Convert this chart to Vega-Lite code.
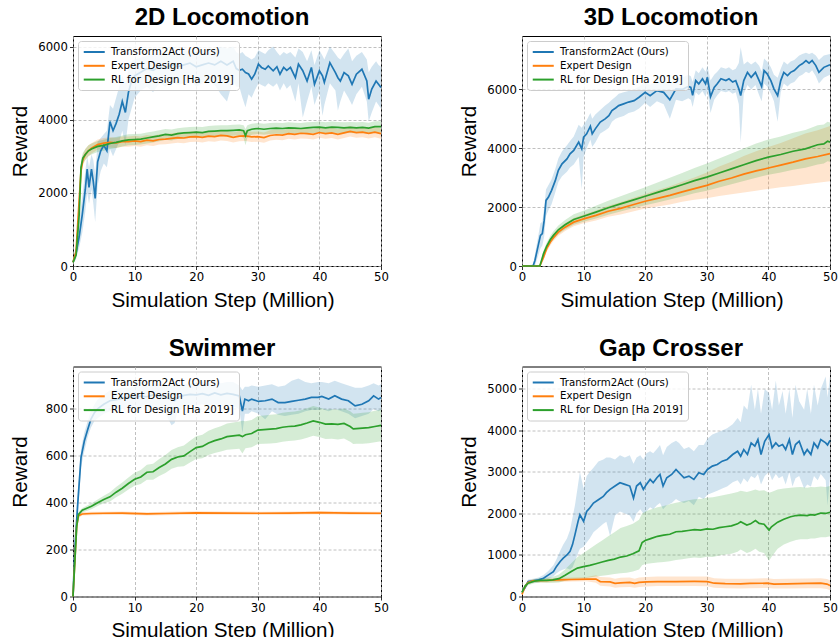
{
"$schema": "https://vega.github.io/schema/vega-lite/v6.json",
"padding": {"left": 8, "top": 5, "right": 0, "bottom": 0},
"background": "white",
"config": {
  "view": {"stroke": "black", "strokeWidth": 1},
  "axis": {"grid": true, "gridDash": [3, 2], "gridColor": "#b0b0b0", "gridWidth": 0.8, "domain": false, "ticks": true, "tickColor": "black", "tickSize": 3.5, "tickWidth": 0.8, "labelFont": "DejaVu Sans", "labelFontSize": 11.7, "labelColor": "black", "labelPadding": 2, "titleFont": "Liberation Sans", "titleFontSize": 20.7, "titleFontWeight": "normal", "titleColor": "black", "titleBaseline": "alphabetic", "format": "d"},
  "axisX": {"labelAngle": 0, "titleX": 149.5, "titleY": 40, "labelFlush": false},
  "axisY": {"titleX": -47, "titleY": 105, "titleAngle": -90},
  "title": {"font": "Liberation Sans", "fontSize": 24, "fontWeight": "bold", "color": "black", "frame": "group", "anchor": "middle", "dx": -5, "baseline": "alphabetic", "offset": 6},
  "legend": {"orient": "top-left", "offset": 5, "padding": 4.5, "fillColor": "rgba(255,255,255,0.8)", "strokeColor": "#cccccc", "cornerRadius": 3, "labelFont": "DejaVu Sans", "labelFontSize": 10.2, "labelColor": "black", "symbolType": "M-1,0H3", "symbolSize": 110.25, "symbolStrokeWidth": 2, "symbolOpacity": 1, "labelOffset": 15.5, "rowPadding": 1.8, "title": null}
},
"data": {"values": [
{"p":"a","s":"T","x":0,"y":100,"lo":50,"hi":200},
{"p":"a","s":"T","x":0.5,"y":350,"lo":200,"hi":550},
{"p":"a","s":"T","x":1,"y":800,"lo":500,"hi":1200},
{"p":"a","s":"T","x":1.5,"y":1400,"lo":900,"hi":1900},
{"p":"a","s":"T","x":2,"y":2100,"lo":1500,"hi":2600},
{"p":"a","s":"T","x":2.3,"y":2650,"lo":2000,"hi":3000},
{"p":"a","s":"T","x":2.6,"y":2150,"lo":1700,"hi":2700},
{"p":"a","s":"T","x":3,"y":2650,"lo":2100,"hi":3050},
{"p":"a","s":"T","x":3.3,"y":2300,"lo":1700,"hi":2900},
{"p":"a","s":"T","x":3.6,"y":1850,"lo":1200,"hi":2500},
{"p":"a","s":"T","x":4,"y":2850,"lo":2200,"hi":3400},
{"p":"a","s":"T","x":4.5,"y":3150,"lo":2600,"hi":3500},
{"p":"a","s":"T","x":5,"y":3300,"lo":2800,"hi":3600},
{"p":"a","s":"T","x":5.5,"y":3150,"lo":2700,"hi":3700},
{"p":"a","s":"T","x":6,"y":3950,"lo":3200,"hi":4400},
{"p":"a","s":"T","x":6.5,"y":3700,"lo":3000,"hi":4300},
{"p":"a","s":"T","x":7,"y":3900,"lo":3200,"hi":4600},
{"p":"a","s":"T","x":7.5,"y":4150,"lo":3400,"hi":4900},
{"p":"a","s":"T","x":8,"y":4500,"lo":3700,"hi":5200},
{"p":"a","s":"T","x":8.5,"y":4200,"lo":3300,"hi":5000},
{"p":"a","s":"T","x":9,"y":4750,"lo":4000,"hi":5400},
{"p":"a","s":"T","x":9.5,"y":5050,"lo":4300,"hi":5600},
{"p":"a","s":"T","x":10,"y":5200,"lo":4600,"hi":5650},
{"p":"a","s":"T","x":11,"y":5300,"lo":4800,"hi":5700},
{"p":"a","s":"T","x":12,"y":5400,"lo":4900,"hi":5750},
{"p":"a","s":"T","x":13,"y":5350,"lo":4750,"hi":5800},
{"p":"a","s":"T","x":14,"y":5450,"lo":5000,"hi":5800},
{"p":"a","s":"T","x":15,"y":5400,"lo":4900,"hi":5850},
{"p":"a","s":"T","x":16,"y":5500,"lo":5050,"hi":5850},
{"p":"a","s":"T","x":17,"y":5450,"lo":4950,"hi":5800},
{"p":"a","s":"T","x":18,"y":5500,"lo":5000,"hi":5900},
{"p":"a","s":"T","x":19,"y":5550,"lo":5100,"hi":5900},
{"p":"a","s":"T","x":20,"y":5450,"lo":4900,"hi":5850},
{"p":"a","s":"T","x":21,"y":5500,"lo":5000,"hi":5900},
{"p":"a","s":"T","x":22,"y":5550,"lo":5050,"hi":5950},
{"p":"a","s":"T","x":23,"y":5500,"lo":4950,"hi":5900},
{"p":"a","s":"T","x":24,"y":5600,"lo":4700,"hi":6000},
{"p":"a","s":"T","x":25,"y":5500,"lo":4500,"hi":5950},
{"p":"a","s":"T","x":26,"y":5600,"lo":5100,"hi":6000},
{"p":"a","s":"T","x":26.5,"y":5400,"lo":4900,"hi":5850},
{"p":"a","s":"T","x":27,"y":5350,"lo":4900,"hi":5800},
{"p":"a","s":"T","x":27.5,"y":5380,"lo":4600,"hi":5850},
{"p":"a","s":"T","x":28,"y":5290,"lo":4340,"hi":5750},
{"p":"a","s":"T","x":28.5,"y":5250,"lo":4700,"hi":5700},
{"p":"a","s":"T","x":29,"y":5110,"lo":4600,"hi":5650},
{"p":"a","s":"T","x":29.5,"y":5245,"lo":4800,"hi":5700},
{"p":"a","s":"T","x":30.1,"y":5520,"lo":5000,"hi":5900},
{"p":"a","s":"T","x":30.6,"y":5430,"lo":4950,"hi":5850},
{"p":"a","s":"T","x":31.2,"y":5380,"lo":4900,"hi":5800},
{"p":"a","s":"T","x":31.7,"y":5470,"lo":5000,"hi":5900},
{"p":"a","s":"T","x":32.5,"y":5340,"lo":4900,"hi":6000},
{"p":"a","s":"T","x":33.1,"y":5450,"lo":5000,"hi":5850},
{"p":"a","s":"T","x":33.6,"y":5245,"lo":4800,"hi":5750},
{"p":"a","s":"T","x":34.2,"y":5430,"lo":5000,"hi":5850},
{"p":"a","s":"T","x":34.7,"y":5350,"lo":4850,"hi":5800},
{"p":"a","s":"T","x":35.3,"y":5430,"lo":4950,"hi":5850},
{"p":"a","s":"T","x":36.1,"y":5150,"lo":4500,"hi":5700},
{"p":"a","s":"T","x":36.6,"y":5520,"lo":5000,"hi":5950},
{"p":"a","s":"T","x":37.3,"y":5340,"lo":4060,"hi":5850},
{"p":"a","s":"T","x":38,"y":5060,"lo":4500,"hi":5600},
{"p":"a","s":"T","x":38.7,"y":5430,"lo":4900,"hi":5900},
{"p":"a","s":"T","x":39.2,"y":4970,"lo":4400,"hi":5500},
{"p":"a","s":"T","x":40,"y":5340,"lo":4800,"hi":5900},
{"p":"a","s":"T","x":40.5,"y":5200,"lo":4110,"hi":5750},
{"p":"a","s":"T","x":40.8,"y":5020,"lo":4400,"hi":5650},
{"p":"a","s":"T","x":41.7,"y":5560,"lo":5000,"hi":6000},
{"p":"a","s":"T","x":42.6,"y":5290,"lo":4800,"hi":5800},
{"p":"a","s":"T","x":43,"y":5150,"lo":4250,"hi":5700},
{"p":"a","s":"T","x":43.4,"y":5060,"lo":4500,"hi":5650},
{"p":"a","s":"T","x":44,"y":5290,"lo":4800,"hi":5800},
{"p":"a","s":"T","x":44.7,"y":5200,"lo":4600,"hi":5950},
{"p":"a","s":"T","x":45.3,"y":4970,"lo":4400,"hi":5600},
{"p":"a","s":"T","x":46,"y":5245,"lo":4700,"hi":5750},
{"p":"a","s":"T","x":46.9,"y":5380,"lo":4900,"hi":5850},
{"p":"a","s":"T","x":47.7,"y":5060,"lo":4500,"hi":5650},
{"p":"a","s":"T","x":48,"y":4560,"lo":3950,"hi":5300},
{"p":"a","s":"T","x":48.5,"y":4840,"lo":4200,"hi":5450},
{"p":"a","s":"T","x":49.2,"y":5060,"lo":4500,"hi":5600},
{"p":"a","s":"T","x":49.6,"y":4970,"lo":4400,"hi":5500},
{"p":"a","s":"T","x":50,"y":4880,"lo":4300,"hi":5450},
{"p":"a","s":"E","x":0,"y":100,"lo":50,"hi":150},
{"p":"a","s":"E","x":0.5,"y":400,"lo":300,"hi":500},
{"p":"a","s":"E","x":1,"y":1800,"lo":1500,"hi":2100},
{"p":"a","s":"E","x":1.3,"y":2600,"lo":2400,"hi":2800},
{"p":"a","s":"E","x":1.6,"y":2900,"lo":2750,"hi":3050},
{"p":"a","s":"E","x":2,"y":3050,"lo":2900,"hi":3200},
{"p":"a","s":"E","x":2.5,"y":3150,"lo":3000,"hi":3300},
{"p":"a","s":"E","x":3,"y":3220,"lo":3080,"hi":3360},
{"p":"a","s":"E","x":4,"y":3320,"lo":3180,"hi":3460},
{"p":"a","s":"E","x":5,"y":3360,"lo":3220,"hi":3500},
{"p":"a","s":"E","x":6,"y":3380,"lo":3240,"hi":3520},
{"p":"a","s":"E","x":7,"y":3370,"lo":3230,"hi":3510},
{"p":"a","s":"E","x":8,"y":3400,"lo":3260,"hi":3540},
{"p":"a","s":"E","x":9,"y":3400,"lo":3260,"hi":3540},
{"p":"a","s":"E","x":10,"y":3420,"lo":3280,"hi":3560},
{"p":"a","s":"E","x":11,"y":3400,"lo":3260,"hi":3540},
{"p":"a","s":"E","x":12,"y":3440,"lo":3300,"hi":3580},
{"p":"a","s":"E","x":13,"y":3420,"lo":3280,"hi":3560},
{"p":"a","s":"E","x":14,"y":3460,"lo":3320,"hi":3600},
{"p":"a","s":"E","x":15,"y":3470,"lo":3330,"hi":3610},
{"p":"a","s":"E","x":16,"y":3490,"lo":3350,"hi":3630},
{"p":"a","s":"E","x":17,"y":3510,"lo":3370,"hi":3650},
{"p":"a","s":"E","x":18,"y":3500,"lo":3360,"hi":3640},
{"p":"a","s":"E","x":19,"y":3530,"lo":3390,"hi":3670},
{"p":"a","s":"E","x":20,"y":3540,"lo":3400,"hi":3680},
{"p":"a","s":"E","x":21,"y":3520,"lo":3380,"hi":3660},
{"p":"a","s":"E","x":22,"y":3550,"lo":3410,"hi":3690},
{"p":"a","s":"E","x":23,"y":3540,"lo":3400,"hi":3680},
{"p":"a","s":"E","x":24,"y":3570,"lo":3430,"hi":3710},
{"p":"a","s":"E","x":25,"y":3560,"lo":3420,"hi":3700},
{"p":"a","s":"E","x":26,"y":3520,"lo":3380,"hi":3660},
{"p":"a","s":"E","x":27,"y":3550,"lo":3410,"hi":3690},
{"p":"a","s":"E","x":28,"y":3560,"lo":3420,"hi":3700},
{"p":"a","s":"E","x":29,"y":3530,"lo":3390,"hi":3670},
{"p":"a","s":"E","x":30,"y":3540,"lo":3400,"hi":3680},
{"p":"a","s":"E","x":31,"y":3510,"lo":3370,"hi":3650},
{"p":"a","s":"E","x":32,"y":3570,"lo":3430,"hi":3710},
{"p":"a","s":"E","x":33,"y":3590,"lo":3450,"hi":3730},
{"p":"a","s":"E","x":34,"y":3580,"lo":3440,"hi":3720},
{"p":"a","s":"E","x":35,"y":3620,"lo":3480,"hi":3760},
{"p":"a","s":"E","x":36,"y":3600,"lo":3460,"hi":3740},
{"p":"a","s":"E","x":37,"y":3630,"lo":3490,"hi":3770},
{"p":"a","s":"E","x":38,"y":3620,"lo":3480,"hi":3760},
{"p":"a","s":"E","x":39,"y":3600,"lo":3460,"hi":3740},
{"p":"a","s":"E","x":40,"y":3650,"lo":3510,"hi":3790},
{"p":"a","s":"E","x":41,"y":3620,"lo":3480,"hi":3760},
{"p":"a","s":"E","x":42,"y":3640,"lo":3500,"hi":3780},
{"p":"a","s":"E","x":43,"y":3600,"lo":3460,"hi":3740},
{"p":"a","s":"E","x":44,"y":3640,"lo":3500,"hi":3780},
{"p":"a","s":"E","x":45,"y":3680,"lo":3540,"hi":3820},
{"p":"a","s":"E","x":46,"y":3650,"lo":3510,"hi":3790},
{"p":"a","s":"E","x":47,"y":3660,"lo":3520,"hi":3800},
{"p":"a","s":"E","x":48,"y":3630,"lo":3490,"hi":3770},
{"p":"a","s":"E","x":49,"y":3660,"lo":3520,"hi":3800},
{"p":"a","s":"E","x":50,"y":3620,"lo":3480,"hi":3760},
{"p":"a","s":"R","x":0,"y":100,"lo":50,"hi":150},
{"p":"a","s":"R","x":0.5,"y":300,"lo":200,"hi":400},
{"p":"a","s":"R","x":1,"y":1400,"lo":1100,"hi":1700},
{"p":"a","s":"R","x":1.3,"y":2700,"lo":2500,"hi":2900},
{"p":"a","s":"R","x":1.6,"y":2950,"lo":2800,"hi":3100},
{"p":"a","s":"R","x":2,"y":3050,"lo":2900,"hi":3200},
{"p":"a","s":"R","x":2.5,"y":3150,"lo":3000,"hi":3300},
{"p":"a","s":"R","x":3,"y":3200,"lo":3050,"hi":3350},
{"p":"a","s":"R","x":4,"y":3270,"lo":3120,"hi":3420},
{"p":"a","s":"R","x":5,"y":3300,"lo":3150,"hi":3450},
{"p":"a","s":"R","x":6,"y":3350,"lo":3200,"hi":3500},
{"p":"a","s":"R","x":7,"y":3380,"lo":3230,"hi":3530},
{"p":"a","s":"R","x":8,"y":3420,"lo":3270,"hi":3570},
{"p":"a","s":"R","x":9,"y":3450,"lo":3300,"hi":3600},
{"p":"a","s":"R","x":10,"y":3460,"lo":3310,"hi":3610},
{"p":"a","s":"R","x":11,"y":3470,"lo":3320,"hi":3620},
{"p":"a","s":"R","x":12,"y":3500,"lo":3350,"hi":3650},
{"p":"a","s":"R","x":13,"y":3530,"lo":3380,"hi":3680},
{"p":"a","s":"R","x":14,"y":3560,"lo":3410,"hi":3710},
{"p":"a","s":"R","x":15,"y":3600,"lo":3450,"hi":3750},
{"p":"a","s":"R","x":16,"y":3580,"lo":3430,"hi":3730},
{"p":"a","s":"R","x":17,"y":3620,"lo":3470,"hi":3770},
{"p":"a","s":"R","x":18,"y":3640,"lo":3490,"hi":3790},
{"p":"a","s":"R","x":19,"y":3650,"lo":3500,"hi":3800},
{"p":"a","s":"R","x":20,"y":3660,"lo":3510,"hi":3810},
{"p":"a","s":"R","x":21,"y":3650,"lo":3500,"hi":3800},
{"p":"a","s":"R","x":22,"y":3680,"lo":3530,"hi":3830},
{"p":"a","s":"R","x":23,"y":3690,"lo":3540,"hi":3840},
{"p":"a","s":"R","x":24,"y":3700,"lo":3550,"hi":3850},
{"p":"a","s":"R","x":25,"y":3700,"lo":3550,"hi":3850},
{"p":"a","s":"R","x":26,"y":3710,"lo":3560,"hi":3860},
{"p":"a","s":"R","x":27,"y":3720,"lo":3570,"hi":3870},
{"p":"a","s":"R","x":27.7,"y":3700,"lo":3500,"hi":3850},
{"p":"a","s":"R","x":28,"y":3560,"lo":3300,"hi":3750},
{"p":"a","s":"R","x":28.3,"y":3700,"lo":3500,"hi":3850},
{"p":"a","s":"R","x":29,"y":3740,"lo":3590,"hi":3890},
{"p":"a","s":"R","x":30,"y":3760,"lo":3610,"hi":3910},
{"p":"a","s":"R","x":31,"y":3740,"lo":3590,"hi":3890},
{"p":"a","s":"R","x":32,"y":3760,"lo":3610,"hi":3910},
{"p":"a","s":"R","x":33,"y":3770,"lo":3620,"hi":3920},
{"p":"a","s":"R","x":34,"y":3760,"lo":3610,"hi":3910},
{"p":"a","s":"R","x":35,"y":3780,"lo":3630,"hi":3930},
{"p":"a","s":"R","x":36,"y":3770,"lo":3620,"hi":3920},
{"p":"a","s":"R","x":37,"y":3760,"lo":3610,"hi":3910},
{"p":"a","s":"R","x":38,"y":3780,"lo":3630,"hi":3930},
{"p":"a","s":"R","x":39,"y":3790,"lo":3640,"hi":3940},
{"p":"a","s":"R","x":40,"y":3800,"lo":3650,"hi":3950},
{"p":"a","s":"R","x":41,"y":3780,"lo":3630,"hi":3930},
{"p":"a","s":"R","x":42,"y":3800,"lo":3650,"hi":3950},
{"p":"a","s":"R","x":43,"y":3790,"lo":3640,"hi":3940},
{"p":"a","s":"R","x":44,"y":3780,"lo":3630,"hi":3930},
{"p":"a","s":"R","x":45,"y":3790,"lo":3640,"hi":3940},
{"p":"a","s":"R","x":46,"y":3780,"lo":3630,"hi":3930},
{"p":"a","s":"R","x":47,"y":3790,"lo":3640,"hi":3940},
{"p":"a","s":"R","x":48,"y":3770,"lo":3620,"hi":3920},
{"p":"a","s":"R","x":49,"y":3810,"lo":3660,"hi":3960},
{"p":"a","s":"R","x":50,"y":3810,"lo":3660,"hi":3960},
{"p":"b","s":"T","x":0,"y":0,"lo":0,"hi":0},
{"p":"b","s":"T","x":1.8,"y":0,"lo":0,"hi":50},
{"p":"b","s":"T","x":2.1,"y":190,"lo":0,"hi":400},
{"p":"b","s":"T","x":2.7,"y":760,"lo":400,"hi":1100},
{"p":"b","s":"T","x":3,"y":1040,"lo":600,"hi":1450},
{"p":"b","s":"T","x":3.3,"y":1100,"lo":700,"hi":1500},
{"p":"b","s":"T","x":3.6,"y":1550,"lo":1000,"hi":2000},
{"p":"b","s":"T","x":3.9,"y":2230,"lo":1700,"hi":2600},
{"p":"b","s":"T","x":4.3,"y":2340,"lo":1900,"hi":2750},
{"p":"b","s":"T","x":4.8,"y":2570,"lo":2100,"hi":2950},
{"p":"b","s":"T","x":5.4,"y":2900,"lo":2500,"hi":3300},
{"p":"b","s":"T","x":5.9,"y":3250,"lo":2850,"hi":3650},
{"p":"b","s":"T","x":6.5,"y":3470,"lo":3050,"hi":3900},
{"p":"b","s":"T","x":7.3,"y":3640,"lo":3200,"hi":4100},
{"p":"b","s":"T","x":7.8,"y":3810,"lo":3350,"hi":4250},
{"p":"b","s":"T","x":8.4,"y":3925,"lo":3450,"hi":4400},
{"p":"b","s":"T","x":9.2,"y":4210,"lo":3700,"hi":4800},
{"p":"b","s":"T","x":9.7,"y":3980,"lo":2600,"hi":4700},
{"p":"b","s":"T","x":10,"y":4380,"lo":3700,"hi":4800},
{"p":"b","s":"T","x":10.5,"y":4490,"lo":4000,"hi":4950},
{"p":"b","s":"T","x":11.1,"y":4750,"lo":4300,"hi":5200},
{"p":"b","s":"T","x":11.4,"y":4490,"lo":4050,"hi":5000},
{"p":"b","s":"T","x":11.9,"y":4660,"lo":4200,"hi":5150},
{"p":"b","s":"T","x":12.7,"y":4890,"lo":4500,"hi":5300},
{"p":"b","s":"T","x":13.5,"y":5000,"lo":4600,"hi":5450},
{"p":"b","s":"T","x":14.1,"y":5110,"lo":4700,"hi":5550},
{"p":"b","s":"T","x":14.6,"y":5280,"lo":4900,"hi":5650},
{"p":"b","s":"T","x":15.2,"y":5370,"lo":5000,"hi":5750},
{"p":"b","s":"T","x":15.7,"y":5450,"lo":5050,"hi":5850},
{"p":"b","s":"T","x":16.5,"y":5510,"lo":5100,"hi":5900},
{"p":"b","s":"T","x":17.3,"y":5570,"lo":5200,"hi":5950},
{"p":"b","s":"T","x":18.2,"y":5620,"lo":5250,"hi":6000},
{"p":"b","s":"T","x":19,"y":5735,"lo":5350,"hi":6100},
{"p":"b","s":"T","x":20,"y":5900,"lo":5550,"hi":6250},
{"p":"b","s":"T","x":20.8,"y":5790,"lo":5400,"hi":6150},
{"p":"b","s":"T","x":21.9,"y":5960,"lo":5600,"hi":6300},
{"p":"b","s":"T","x":23,"y":5900,"lo":5500,"hi":6300},
{"p":"b","s":"T","x":24,"y":5650,"lo":5000,"hi":6200},
{"p":"b","s":"T","x":25,"y":6020,"lo":5650,"hi":6400},
{"p":"b","s":"T","x":26,"y":6000,"lo":5600,"hi":6400},
{"p":"b","s":"T","x":27,"y":6100,"lo":5700,"hi":6500},
{"p":"b","s":"T","x":27.4,"y":6070,"lo":5650,"hi":6450},
{"p":"b","s":"T","x":27.7,"y":5800,"lo":5400,"hi":6250},
{"p":"b","s":"T","x":28.2,"y":6300,"lo":5900,"hi":6650},
{"p":"b","s":"T","x":28.7,"y":6190,"lo":5800,"hi":6550},
{"p":"b","s":"T","x":29.3,"y":6360,"lo":5950,"hi":6750},
{"p":"b","s":"T","x":29.8,"y":6190,"lo":5750,"hi":6600},
{"p":"b","s":"T","x":30.1,"y":6410,"lo":6000,"hi":6800},
{"p":"b","s":"T","x":30.6,"y":5750,"lo":5200,"hi":6300},
{"p":"b","s":"T","x":31.2,"y":6070,"lo":5650,"hi":6500},
{"p":"b","s":"T","x":31.7,"y":6190,"lo":5800,"hi":6600},
{"p":"b","s":"T","x":32.3,"y":6360,"lo":5950,"hi":6750},
{"p":"b","s":"T","x":33.1,"y":6300,"lo":5900,"hi":6700},
{"p":"b","s":"T","x":33.6,"y":6360,"lo":5950,"hi":6750},
{"p":"b","s":"T","x":34.2,"y":6250,"lo":5850,"hi":6650},
{"p":"b","s":"T","x":34.7,"y":6300,"lo":5900,"hi":6700},
{"p":"b","s":"T","x":35.2,"y":6020,"lo":5500,"hi":6900},
{"p":"b","s":"T","x":35.5,"y":5790,"lo":4200,"hi":7430},
{"p":"b","s":"T","x":36,"y":6300,"lo":5850,"hi":6850},
{"p":"b","s":"T","x":36.6,"y":6580,"lo":6150,"hi":6950},
{"p":"b","s":"T","x":37.2,"y":6410,"lo":6000,"hi":6850},
{"p":"b","s":"T","x":37.9,"y":6580,"lo":6150,"hi":6950},
{"p":"b","s":"T","x":38.5,"y":6300,"lo":5800,"hi":6800},
{"p":"b","s":"T","x":38.9,"y":6100,"lo":5600,"hi":6600},
{"p":"b","s":"T","x":39.3,"y":6640,"lo":6200,"hi":7050},
{"p":"b","s":"T","x":39.8,"y":6530,"lo":6100,"hi":6950},
{"p":"b","s":"T","x":40.4,"y":6300,"lo":5850,"hi":6750},
{"p":"b","s":"T","x":40.9,"y":6020,"lo":5600,"hi":6500},
{"p":"b","s":"T","x":41.5,"y":5790,"lo":4900,"hi":6400},
{"p":"b","s":"T","x":42,"y":6300,"lo":5900,"hi":6700},
{"p":"b","s":"T","x":42.5,"y":6580,"lo":6200,"hi":6950},
{"p":"b","s":"T","x":43.1,"y":6470,"lo":6100,"hi":6850},
{"p":"b","s":"T","x":43.6,"y":6580,"lo":6200,"hi":6950},
{"p":"b","s":"T","x":44.2,"y":6640,"lo":6250,"hi":7000},
{"p":"b","s":"T","x":45,"y":6810,"lo":6450,"hi":7150},
{"p":"b","s":"T","x":45.5,"y":6870,"lo":6500,"hi":7200},
{"p":"b","s":"T","x":46.1,"y":6980,"lo":6600,"hi":7250},
{"p":"b","s":"T","x":46.6,"y":6890,"lo":6550,"hi":7200},
{"p":"b","s":"T","x":47.1,"y":6980,"lo":6650,"hi":7250},
{"p":"b","s":"T","x":47.7,"y":6810,"lo":6450,"hi":7150},
{"p":"b","s":"T","x":48.2,"y":6580,"lo":6200,"hi":7000},
{"p":"b","s":"T","x":49,"y":6750,"lo":6400,"hi":7150},
{"p":"b","s":"T","x":50,"y":6840,"lo":6500,"hi":7200},
{"p":"b","s":"E","x":0,"y":0,"lo":0,"hi":0},
{"p":"b","s":"E","x":2.9,"y":0,"lo":0,"hi":30},
{"p":"b","s":"E","x":3.5,"y":300,"lo":200,"hi":400},
{"p":"b","s":"E","x":4,"y":590,"lo":480,"hi":700},
{"p":"b","s":"E","x":4.6,"y":815,"lo":700,"hi":930},
{"p":"b","s":"E","x":5.1,"y":960,"lo":850,"hi":1070},
{"p":"b","s":"E","x":5.9,"y":1150,"lo":1030,"hi":1270},
{"p":"b","s":"E","x":7,"y":1320,"lo":1190,"hi":1450},
{"p":"b","s":"E","x":8.4,"y":1490,"lo":1350,"hi":1630},
{"p":"b","s":"E","x":10,"y":1600,"lo":1450,"hi":1750},
{"p":"b","s":"E","x":12,"y":1720,"lo":1550,"hi":1890},
{"p":"b","s":"E","x":14,"y":1860,"lo":1670,"hi":2050},
{"p":"b","s":"E","x":16,"y":1960,"lo":1750,"hi":2170},
{"p":"b","s":"E","x":18,"y":2080,"lo":1850,"hi":2310},
{"p":"b","s":"E","x":20,"y":2200,"lo":1950,"hi":2450},
{"p":"b","s":"E","x":22,"y":2300,"lo":2020,"hi":2580},
{"p":"b","s":"E","x":24,"y":2400,"lo":2090,"hi":2710},
{"p":"b","s":"E","x":26,"y":2520,"lo":2180,"hi":2860},
{"p":"b","s":"E","x":28,"y":2630,"lo":2250,"hi":3010},
{"p":"b","s":"E","x":30,"y":2740,"lo":2300,"hi":3180},
{"p":"b","s":"E","x":32,"y":2880,"lo":2380,"hi":3380},
{"p":"b","s":"E","x":34,"y":2990,"lo":2440,"hi":3540},
{"p":"b","s":"E","x":36,"y":3120,"lo":2500,"hi":3740},
{"p":"b","s":"E","x":38,"y":3230,"lo":2560,"hi":3900},
{"p":"b","s":"E","x":40,"y":3330,"lo":2620,"hi":4040},
{"p":"b","s":"E","x":42,"y":3430,"lo":2680,"hi":4180},
{"p":"b","s":"E","x":44,"y":3530,"lo":2720,"hi":4340},
{"p":"b","s":"E","x":46,"y":3640,"lo":2780,"hi":4500},
{"p":"b","s":"E","x":48,"y":3720,"lo":2830,"hi":4610},
{"p":"b","s":"E","x":50,"y":3820,"lo":2880,"hi":4760},
{"p":"b","s":"R","x":0,"y":0,"lo":0,"hi":0},
{"p":"b","s":"R","x":2.9,"y":0,"lo":0,"hi":30},
{"p":"b","s":"R","x":3.5,"y":420,"lo":320,"hi":520},
{"p":"b","s":"R","x":4,"y":670,"lo":550,"hi":790},
{"p":"b","s":"R","x":4.6,"y":900,"lo":770,"hi":1030},
{"p":"b","s":"R","x":5.1,"y":1040,"lo":900,"hi":1180},
{"p":"b","s":"R","x":5.9,"y":1230,"lo":1080,"hi":1380},
{"p":"b","s":"R","x":7,"y":1400,"lo":1240,"hi":1560},
{"p":"b","s":"R","x":8.4,"y":1580,"lo":1400,"hi":1760},
{"p":"b","s":"R","x":10,"y":1690,"lo":1500,"hi":1880},
{"p":"b","s":"R","x":12,"y":1830,"lo":1610,"hi":2050},
{"p":"b","s":"R","x":14,"y":1980,"lo":1740,"hi":2220},
{"p":"b","s":"R","x":16,"y":2110,"lo":1850,"hi":2370},
{"p":"b","s":"R","x":18,"y":2240,"lo":1960,"hi":2520},
{"p":"b","s":"R","x":20,"y":2370,"lo":2060,"hi":2680},
{"p":"b","s":"R","x":22,"y":2500,"lo":2160,"hi":2840},
{"p":"b","s":"R","x":24,"y":2630,"lo":2260,"hi":3000},
{"p":"b","s":"R","x":26,"y":2760,"lo":2360,"hi":3160},
{"p":"b","s":"R","x":28,"y":2900,"lo":2470,"hi":3330},
{"p":"b","s":"R","x":30,"y":3020,"lo":2560,"hi":3480},
{"p":"b","s":"R","x":32,"y":3160,"lo":2670,"hi":3650},
{"p":"b","s":"R","x":34,"y":3300,"lo":2780,"hi":3820},
{"p":"b","s":"R","x":36,"y":3440,"lo":2890,"hi":3990},
{"p":"b","s":"R","x":38,"y":3580,"lo":3000,"hi":4160},
{"p":"b","s":"R","x":40,"y":3700,"lo":3100,"hi":4300},
{"p":"b","s":"R","x":42,"y":3790,"lo":3180,"hi":4400},
{"p":"b","s":"R","x":44,"y":3900,"lo":3270,"hi":4530},
{"p":"b","s":"R","x":46,"y":3980,"lo":3340,"hi":4620},
{"p":"b","s":"R","x":48,"y":4120,"lo":3450,"hi":4780},
{"p":"b","s":"R","x":49,"y":4150,"lo":3480,"hi":4810},
{"p":"b","s":"R","x":49.6,"y":4240,"lo":3560,"hi":4900},
{"p":"b","s":"R","x":50,"y":4210,"lo":3540,"hi":4880},
{"p":"c","s":"T","x":0,"y":0,"lo":0,"hi":0},
{"p":"c","s":"T","x":0.3,"y":200,"lo":150,"hi":260},
{"p":"c","s":"T","x":0.76,"y":392,"lo":340,"hi":440},
{"p":"c","s":"T","x":1.3,"y":592,"lo":550,"hi":630},
{"p":"c","s":"T","x":1.84,"y":663,"lo":620,"hi":700},
{"p":"c","s":"T","x":2.4,"y":713,"lo":680,"hi":750},
{"p":"c","s":"T","x":2.9,"y":756,"lo":720,"hi":790},
{"p":"c","s":"T","x":3.5,"y":785,"lo":750,"hi":820},
{"p":"c","s":"T","x":4,"y":800,"lo":760,"hi":840},
{"p":"c","s":"T","x":5,"y":820,"lo":780,"hi":860},
{"p":"c","s":"T","x":6,"y":835,"lo":790,"hi":880},
{"p":"c","s":"T","x":7,"y":840,"lo":800,"hi":885},
{"p":"c","s":"T","x":8,"y":845,"lo":800,"hi":890},
{"p":"c","s":"T","x":9,"y":850,"lo":810,"hi":890},
{"p":"c","s":"T","x":10,"y":848,"lo":800,"hi":895},
{"p":"c","s":"T","x":11,"y":855,"lo":810,"hi":900},
{"p":"c","s":"T","x":12,"y":852,"lo":805,"hi":900},
{"p":"c","s":"T","x":13,"y":860,"lo":810,"hi":905},
{"p":"c","s":"T","x":14,"y":855,"lo":800,"hi":905},
{"p":"c","s":"T","x":15,"y":850,"lo":780,"hi":905},
{"p":"c","s":"T","x":16,"y":840,"lo":730,"hi":900},
{"p":"c","s":"T","x":16.5,"y":835,"lo":740,"hi":900},
{"p":"c","s":"T","x":17,"y":850,"lo":790,"hi":905},
{"p":"c","s":"T","x":18,"y":858,"lo":810,"hi":905},
{"p":"c","s":"T","x":19,"y":862,"lo":815,"hi":910},
{"p":"c","s":"T","x":20,"y":860,"lo":815,"hi":910},
{"p":"c","s":"T","x":21,"y":865,"lo":820,"hi":915},
{"p":"c","s":"T","x":22,"y":858,"lo":810,"hi":910},
{"p":"c","s":"T","x":23,"y":868,"lo":820,"hi":915},
{"p":"c","s":"T","x":24,"y":860,"lo":810,"hi":910},
{"p":"c","s":"T","x":25,"y":866,"lo":815,"hi":915},
{"p":"c","s":"T","x":26,"y":862,"lo":810,"hi":915},
{"p":"c","s":"T","x":27,"y":855,"lo":800,"hi":900},
{"p":"c","s":"T","x":27.5,"y":791,"lo":696,"hi":880},
{"p":"c","s":"T","x":27.9,"y":842,"lo":780,"hi":895},
{"p":"c","s":"T","x":28.5,"y":835,"lo":780,"hi":895},
{"p":"c","s":"T","x":29,"y":842,"lo":790,"hi":900},
{"p":"c","s":"T","x":30.1,"y":832,"lo":780,"hi":895},
{"p":"c","s":"T","x":31.2,"y":835,"lo":756,"hi":900},
{"p":"c","s":"T","x":32.3,"y":842,"lo":790,"hi":905},
{"p":"c","s":"T","x":33.3,"y":827,"lo":775,"hi":895},
{"p":"c","s":"T","x":34.4,"y":827,"lo":770,"hi":900},
{"p":"c","s":"T","x":35.5,"y":832,"lo":775,"hi":920},
{"p":"c","s":"T","x":36.6,"y":837,"lo":780,"hi":930},
{"p":"c","s":"T","x":37.7,"y":842,"lo":790,"hi":915},
{"p":"c","s":"T","x":38.7,"y":849,"lo":795,"hi":910},
{"p":"c","s":"T","x":39.8,"y":849,"lo":795,"hi":915},
{"p":"c","s":"T","x":40.4,"y":853,"lo":800,"hi":915},
{"p":"c","s":"T","x":41.5,"y":842,"lo":790,"hi":910},
{"p":"c","s":"T","x":42.5,"y":856,"lo":800,"hi":920},
{"p":"c","s":"T","x":43.6,"y":842,"lo":790,"hi":910},
{"p":"c","s":"T","x":44.7,"y":835,"lo":780,"hi":900},
{"p":"c","s":"T","x":45.8,"y":813,"lo":760,"hi":890},
{"p":"c","s":"T","x":46.9,"y":820,"lo":770,"hi":890},
{"p":"c","s":"T","x":48,"y":835,"lo":780,"hi":900},
{"p":"c","s":"T","x":48.8,"y":856,"lo":800,"hi":910},
{"p":"c","s":"T","x":49.6,"y":842,"lo":790,"hi":900},
{"p":"c","s":"T","x":50,"y":849,"lo":795,"hi":905},
{"p":"c","s":"E","x":0,"y":0,"lo":0,"hi":0},
{"p":"c","s":"E","x":0.3,"y":150,"lo":120,"hi":180},
{"p":"c","s":"E","x":0.6,"y":300,"lo":280,"hi":320},
{"p":"c","s":"E","x":0.9,"y":345,"lo":335,"hi":355},
{"p":"c","s":"E","x":1.5,"y":352,"lo":345,"hi":360},
{"p":"c","s":"E","x":3,"y":354,"lo":347,"hi":361},
{"p":"c","s":"E","x":5,"y":355,"lo":348,"hi":362},
{"p":"c","s":"E","x":8,"y":356,"lo":349,"hi":363},
{"p":"c","s":"E","x":12,"y":352,"lo":345,"hi":359},
{"p":"c","s":"E","x":15,"y":354,"lo":347,"hi":361},
{"p":"c","s":"E","x":20,"y":357,"lo":350,"hi":364},
{"p":"c","s":"E","x":25,"y":356,"lo":349,"hi":363},
{"p":"c","s":"E","x":30,"y":355,"lo":348,"hi":362},
{"p":"c","s":"E","x":35,"y":356,"lo":349,"hi":363},
{"p":"c","s":"E","x":40,"y":358,"lo":351,"hi":365},
{"p":"c","s":"E","x":45,"y":356,"lo":349,"hi":363},
{"p":"c","s":"E","x":50,"y":355,"lo":348,"hi":362},
{"p":"c","s":"R","x":0,"y":0,"lo":0,"hi":0},
{"p":"c","s":"R","x":0.3,"y":150,"lo":120,"hi":180},
{"p":"c","s":"R","x":0.6,"y":300,"lo":280,"hi":320},
{"p":"c","s":"R","x":0.9,"y":350,"lo":340,"hi":360},
{"p":"c","s":"R","x":1.5,"y":368,"lo":358,"hi":378},
{"p":"c","s":"R","x":3,"y":385,"lo":372,"hi":398},
{"p":"c","s":"R","x":4,"y":400,"lo":386,"hi":414},
{"p":"c","s":"R","x":5,"y":414,"lo":398,"hi":430},
{"p":"c","s":"R","x":6,"y":425,"lo":405,"hi":445},
{"p":"c","s":"R","x":7,"y":445,"lo":423,"hi":467},
{"p":"c","s":"R","x":8,"y":462,"lo":438,"hi":486},
{"p":"c","s":"R","x":9,"y":482,"lo":456,"hi":508},
{"p":"c","s":"R","x":10,"y":500,"lo":472,"hi":528},
{"p":"c","s":"R","x":11,"y":510,"lo":480,"hi":540},
{"p":"c","s":"R","x":12,"y":530,"lo":498,"hi":562},
{"p":"c","s":"R","x":13,"y":532,"lo":498,"hi":566},
{"p":"c","s":"R","x":14,"y":550,"lo":514,"hi":586},
{"p":"c","s":"R","x":15,"y":565,"lo":527,"hi":603},
{"p":"c","s":"R","x":16,"y":585,"lo":545,"hi":625},
{"p":"c","s":"R","x":17,"y":595,"lo":553,"hi":637},
{"p":"c","s":"R","x":18,"y":600,"lo":556,"hi":644},
{"p":"c","s":"R","x":19,"y":618,"lo":572,"hi":664},
{"p":"c","s":"R","x":20,"y":635,"lo":587,"hi":683},
{"p":"c","s":"R","x":21,"y":640,"lo":590,"hi":690},
{"p":"c","s":"R","x":22,"y":655,"lo":603,"hi":707},
{"p":"c","s":"R","x":23,"y":665,"lo":612,"hi":718},
{"p":"c","s":"R","x":24,"y":672,"lo":618,"hi":726},
{"p":"c","s":"R","x":25,"y":682,"lo":626,"hi":738},
{"p":"c","s":"R","x":26,"y":685,"lo":628,"hi":742},
{"p":"c","s":"R","x":27,"y":688,"lo":630,"hi":746},
{"p":"c","s":"R","x":27.5,"y":682,"lo":610,"hi":750},
{"p":"c","s":"R","x":28,"y":690,"lo":632,"hi":748},
{"p":"c","s":"R","x":29,"y":695,"lo":637,"hi":753},
{"p":"c","s":"R","x":30,"y":710,"lo":650,"hi":770},
{"p":"c","s":"R","x":31,"y":712,"lo":652,"hi":772},
{"p":"c","s":"R","x":32,"y":714,"lo":653,"hi":775},
{"p":"c","s":"R","x":33,"y":716,"lo":655,"hi":777},
{"p":"c","s":"R","x":34,"y":722,"lo":660,"hi":784},
{"p":"c","s":"R","x":35,"y":725,"lo":663,"hi":787},
{"p":"c","s":"R","x":36,"y":727,"lo":665,"hi":789},
{"p":"c","s":"R","x":37,"y":732,"lo":670,"hi":794},
{"p":"c","s":"R","x":38,"y":740,"lo":677,"hi":803},
{"p":"c","s":"R","x":39,"y":749,"lo":686,"hi":812},
{"p":"c","s":"R","x":40,"y":743,"lo":680,"hi":806},
{"p":"c","s":"R","x":41,"y":735,"lo":672,"hi":798},
{"p":"c","s":"R","x":42,"y":736,"lo":673,"hi":799},
{"p":"c","s":"R","x":43,"y":734,"lo":670,"hi":798},
{"p":"c","s":"R","x":44,"y":738,"lo":674,"hi":802},
{"p":"c","s":"R","x":45,"y":725,"lo":660,"hi":790},
{"p":"c","s":"R","x":45.5,"y":715,"lo":650,"hi":780},
{"p":"c","s":"R","x":46,"y":716,"lo":651,"hi":781},
{"p":"c","s":"R","x":47,"y":718,"lo":652,"hi":784},
{"p":"c","s":"R","x":48,"y":720,"lo":654,"hi":786},
{"p":"c","s":"R","x":49,"y":725,"lo":658,"hi":792},
{"p":"c","s":"R","x":50,"y":730,"lo":662,"hi":798},
{"p":"d","s":"T","x":0,"y":100,"lo":60,"hi":140},
{"p":"d","s":"T","x":0.5,"y":217,"lo":170,"hi":260},
{"p":"d","s":"T","x":1,"y":360,"lo":310,"hi":410},
{"p":"d","s":"T","x":1.8,"y":380,"lo":330,"hi":430},
{"p":"d","s":"T","x":2.7,"y":400,"lo":340,"hi":460},
{"p":"d","s":"T","x":3.5,"y":440,"lo":370,"hi":520},
{"p":"d","s":"T","x":4.3,"y":520,"lo":430,"hi":620},
{"p":"d","s":"T","x":5.1,"y":600,"lo":480,"hi":750},
{"p":"d","s":"T","x":5.6,"y":725,"lo":560,"hi":900},
{"p":"d","s":"T","x":6.2,"y":845,"lo":620,"hi":1100},
{"p":"d","s":"T","x":6.7,"y":925,"lo":650,"hi":1250},
{"p":"d","s":"T","x":7.3,"y":1000,"lo":680,"hi":1400},
{"p":"d","s":"T","x":7.8,"y":1090,"lo":650,"hi":1600},
{"p":"d","s":"T","x":8.2,"y":1250,"lo":700,"hi":1900},
{"p":"d","s":"T","x":8.6,"y":1490,"lo":850,"hi":2200},
{"p":"d","s":"T","x":9.1,"y":1810,"lo":1050,"hi":2700},
{"p":"d","s":"T","x":9.4,"y":1970,"lo":1150,"hi":3000},
{"p":"d","s":"T","x":10,"y":1810,"lo":1200,"hi":2600},
{"p":"d","s":"T","x":10.5,"y":2050,"lo":1300,"hi":2900},
{"p":"d","s":"T","x":11,"y":2130,"lo":1400,"hi":3000},
{"p":"d","s":"T","x":11.6,"y":2250,"lo":1550,"hi":3100},
{"p":"d","s":"T","x":12.4,"y":2330,"lo":1650,"hi":3250},
{"p":"d","s":"T","x":13.2,"y":2410,"lo":1750,"hi":3300},
{"p":"d","s":"T","x":13.7,"y":2500,"lo":1800,"hi":3350},
{"p":"d","s":"T","x":14.3,"y":2580,"lo":1450,"hi":3350},
{"p":"d","s":"T","x":15.1,"y":2660,"lo":1950,"hi":3300},
{"p":"d","s":"T","x":15.9,"y":2740,"lo":2050,"hi":3400},
{"p":"d","s":"T","x":16.7,"y":2700,"lo":2000,"hi":3350},
{"p":"d","s":"T","x":17.5,"y":2660,"lo":1950,"hi":3400},
{"p":"d","s":"T","x":18.1,"y":2370,"lo":1800,"hi":3200},
{"p":"d","s":"T","x":18.6,"y":2660,"lo":2000,"hi":3350},
{"p":"d","s":"T","x":19.2,"y":2740,"lo":2100,"hi":3400},
{"p":"d","s":"T","x":19.7,"y":2580,"lo":2000,"hi":3300},
{"p":"d","s":"T","x":20.2,"y":2700,"lo":2050,"hi":3450},
{"p":"d","s":"T","x":20.8,"y":2820,"lo":2150,"hi":3500},
{"p":"d","s":"T","x":21.3,"y":2740,"lo":2100,"hi":3450},
{"p":"d","s":"T","x":21.9,"y":2860,"lo":2200,"hi":3550},
{"p":"d","s":"T","x":22.4,"y":2940,"lo":2250,"hi":3650},
{"p":"d","s":"T","x":22.9,"y":2660,"lo":2100,"hi":3400},
{"p":"d","s":"T","x":23.5,"y":2860,"lo":2200,"hi":3600},
{"p":"d","s":"T","x":24.3,"y":2940,"lo":2250,"hi":3700},
{"p":"d","s":"T","x":25,"y":3060,"lo":2350,"hi":3750},
{"p":"d","s":"T","x":25.5,"y":2980,"lo":2300,"hi":3700},
{"p":"d","s":"T","x":26.3,"y":2860,"lo":2250,"hi":3550},
{"p":"d","s":"T","x":27.1,"y":2900,"lo":2300,"hi":3600},
{"p":"d","s":"T","x":27.9,"y":2820,"lo":2200,"hi":3500},
{"p":"d","s":"T","x":28.7,"y":2980,"lo":2400,"hi":3650},
{"p":"d","s":"T","x":29.5,"y":2940,"lo":2350,"hi":3650},
{"p":"d","s":"T","x":30.1,"y":3060,"lo":2450,"hi":3800},
{"p":"d","s":"T","x":30.9,"y":3140,"lo":2500,"hi":3900},
{"p":"d","s":"T","x":31.7,"y":3180,"lo":2550,"hi":3950},
{"p":"d","s":"T","x":32.5,"y":3260,"lo":2600,"hi":4000},
{"p":"d","s":"T","x":33.3,"y":3300,"lo":2650,"hi":4050},
{"p":"d","s":"T","x":34.2,"y":3420,"lo":2750,"hi":4150},
{"p":"d","s":"T","x":35,"y":3500,"lo":2800,"hi":4300},
{"p":"d","s":"T","x":35.5,"y":3380,"lo":2700,"hi":4200},
{"p":"d","s":"T","x":36,"y":3540,"lo":2850,"hi":4600},
{"p":"d","s":"T","x":36.6,"y":3420,"lo":2750,"hi":4500},
{"p":"d","s":"T","x":37.2,"y":3700,"lo":2900,"hi":5100},
{"p":"d","s":"T","x":37.8,"y":3620,"lo":2850,"hi":4500},
{"p":"d","s":"T","x":38.3,"y":3780,"lo":2950,"hi":5000},
{"p":"d","s":"T","x":38.8,"y":3420,"lo":2700,"hi":4400},
{"p":"d","s":"T","x":39.4,"y":3740,"lo":2900,"hi":5000},
{"p":"d","s":"T","x":40.1,"y":3900,"lo":3000,"hi":4900},
{"p":"d","s":"T","x":40.6,"y":3580,"lo":2800,"hi":4500},
{"p":"d","s":"T","x":41.2,"y":3700,"lo":2950,"hi":5200},
{"p":"d","s":"T","x":41.7,"y":3620,"lo":2850,"hi":4600},
{"p":"d","s":"T","x":42.3,"y":3660,"lo":2900,"hi":4950},
{"p":"d","s":"T","x":42.8,"y":3540,"lo":2700,"hi":4400},
{"p":"d","s":"T","x":43.4,"y":3780,"lo":3000,"hi":5000},
{"p":"d","s":"T","x":43.9,"y":3420,"lo":2650,"hi":4300},
{"p":"d","s":"T","x":44.4,"y":3660,"lo":2850,"hi":5100},
{"p":"d","s":"T","x":45,"y":3740,"lo":2900,"hi":4700},
{"p":"d","s":"T","x":45.8,"y":3420,"lo":2600,"hi":4500},
{"p":"d","s":"T","x":46.3,"y":3540,"lo":2700,"hi":5000},
{"p":"d","s":"T","x":46.9,"y":3420,"lo":2650,"hi":4400},
{"p":"d","s":"T","x":47.4,"y":3700,"lo":2900,"hi":5100},
{"p":"d","s":"T","x":48,"y":3580,"lo":2800,"hi":4600},
{"p":"d","s":"T","x":48.5,"y":3780,"lo":2950,"hi":5000},
{"p":"d","s":"T","x":49.3,"y":3700,"lo":2800,"hi":5300},
{"p":"d","s":"T","x":49.6,"y":3650,"lo":2200,"hi":4800},
{"p":"d","s":"T","x":50,"y":3760,"lo":2900,"hi":5300},
{"p":"d","s":"E","x":0,"y":50,"lo":20,"hi":80},
{"p":"d","s":"E","x":0.5,"y":240,"lo":200,"hi":280},
{"p":"d","s":"E","x":1,"y":340,"lo":300,"hi":380},
{"p":"d","s":"E","x":1.8,"y":380,"lo":340,"hi":420},
{"p":"d","s":"E","x":4,"y":385,"lo":340,"hi":430},
{"p":"d","s":"E","x":6,"y":400,"lo":350,"hi":450},
{"p":"d","s":"E","x":8,"y":410,"lo":360,"hi":460},
{"p":"d","s":"E","x":10.5,"y":420,"lo":370,"hi":470},
{"p":"d","s":"E","x":12,"y":420,"lo":330,"hi":510},
{"p":"d","s":"E","x":12.7,"y":360,"lo":260,"hi":470},
{"p":"d","s":"E","x":14.3,"y":350,"lo":240,"hi":460},
{"p":"d","s":"E","x":15.1,"y":315,"lo":210,"hi":430},
{"p":"d","s":"E","x":16,"y":330,"lo":220,"hi":450},
{"p":"d","s":"E","x":17.5,"y":340,"lo":230,"hi":460},
{"p":"d","s":"E","x":18.3,"y":315,"lo":210,"hi":430},
{"p":"d","s":"E","x":19,"y":340,"lo":230,"hi":460},
{"p":"d","s":"E","x":20.2,"y":350,"lo":240,"hi":470},
{"p":"d","s":"E","x":22,"y":360,"lo":250,"hi":480},
{"p":"d","s":"E","x":25,"y":360,"lo":250,"hi":480},
{"p":"d","s":"E","x":28,"y":362,"lo":250,"hi":480},
{"p":"d","s":"E","x":30.1,"y":360,"lo":245,"hi":480},
{"p":"d","s":"E","x":31.2,"y":320,"lo":210,"hi":440},
{"p":"d","s":"E","x":33,"y":310,"lo":200,"hi":430},
{"p":"d","s":"E","x":35.5,"y":305,"lo":195,"hi":425},
{"p":"d","s":"E","x":37,"y":315,"lo":200,"hi":430},
{"p":"d","s":"E","x":39.8,"y":320,"lo":205,"hi":440},
{"p":"d","s":"E","x":40.9,"y":300,"lo":190,"hi":420},
{"p":"d","s":"E","x":43,"y":305,"lo":190,"hi":425},
{"p":"d","s":"E","x":46.3,"y":315,"lo":200,"hi":435},
{"p":"d","s":"E","x":48.5,"y":320,"lo":200,"hi":440},
{"p":"d","s":"E","x":49.5,"y":300,"lo":180,"hi":420},
{"p":"d","s":"E","x":50,"y":265,"lo":150,"hi":390},
{"p":"d","s":"R","x":0,"y":100,"lo":60,"hi":140},
{"p":"d","s":"R","x":0.5,"y":250,"lo":200,"hi":300},
{"p":"d","s":"R","x":1,"y":320,"lo":270,"hi":370},
{"p":"d","s":"R","x":2,"y":370,"lo":320,"hi":420},
{"p":"d","s":"R","x":3,"y":390,"lo":340,"hi":440},
{"p":"d","s":"R","x":4,"y":390,"lo":330,"hi":450},
{"p":"d","s":"R","x":5,"y":400,"lo":330,"hi":470},
{"p":"d","s":"R","x":6,"y":430,"lo":340,"hi":530},
{"p":"d","s":"R","x":7,"y":510,"lo":380,"hi":650},
{"p":"d","s":"R","x":8,"y":600,"lo":410,"hi":800},
{"p":"d","s":"R","x":9,"y":685,"lo":430,"hi":950},
{"p":"d","s":"R","x":10,"y":720,"lo":440,"hi":1050},
{"p":"d","s":"R","x":11,"y":750,"lo":460,"hi":1150},
{"p":"d","s":"R","x":12,"y":790,"lo":480,"hi":1250},
{"p":"d","s":"R","x":13,"y":830,"lo":500,"hi":1350},
{"p":"d","s":"R","x":14,"y":870,"lo":520,"hi":1450},
{"p":"d","s":"R","x":15,"y":900,"lo":540,"hi":1550},
{"p":"d","s":"R","x":16,"y":950,"lo":560,"hi":1650},
{"p":"d","s":"R","x":17,"y":975,"lo":570,"hi":1700},
{"p":"d","s":"R","x":18,"y":1030,"lo":600,"hi":1750},
{"p":"d","s":"R","x":19,"y":1100,"lo":650,"hi":1850},
{"p":"d","s":"R","x":19.5,"y":1300,"lo":750,"hi":2000},
{"p":"d","s":"R","x":20,"y":1350,"lo":780,"hi":2050},
{"p":"d","s":"R","x":21,"y":1400,"lo":800,"hi":2100},
{"p":"d","s":"R","x":22,"y":1450,"lo":820,"hi":2150},
{"p":"d","s":"R","x":23,"y":1480,"lo":830,"hi":2180},
{"p":"d","s":"R","x":24,"y":1500,"lo":850,"hi":2220},
{"p":"d","s":"R","x":25,"y":1560,"lo":880,"hi":2260},
{"p":"d","s":"R","x":26,"y":1570,"lo":900,"hi":2290},
{"p":"d","s":"R","x":27,"y":1590,"lo":920,"hi":2320},
{"p":"d","s":"R","x":28,"y":1610,"lo":940,"hi":2340},
{"p":"d","s":"R","x":29,"y":1600,"lo":930,"hi":2350},
{"p":"d","s":"R","x":30,"y":1630,"lo":960,"hi":2380},
{"p":"d","s":"R","x":31,"y":1620,"lo":950,"hi":2390},
{"p":"d","s":"R","x":32,"y":1660,"lo":990,"hi":2420},
{"p":"d","s":"R","x":33,"y":1680,"lo":1010,"hi":2450},
{"p":"d","s":"R","x":34,"y":1700,"lo":1030,"hi":2480},
{"p":"d","s":"R","x":35,"y":1750,"lo":1080,"hi":2520},
{"p":"d","s":"R","x":35.5,"y":1800,"lo":1130,"hi":2550},
{"p":"d","s":"R","x":36.5,"y":1720,"lo":1050,"hi":2520},
{"p":"d","s":"R","x":37.1,"y":1750,"lo":1080,"hi":2540},
{"p":"d","s":"R","x":37.9,"y":1830,"lo":1150,"hi":2580},
{"p":"d","s":"R","x":38.5,"y":1760,"lo":1080,"hi":2550},
{"p":"d","s":"R","x":39.3,"y":1740,"lo":1050,"hi":2560},
{"p":"d","s":"R","x":40.1,"y":1600,"lo":860,"hi":2500},
{"p":"d","s":"R","x":40.5,"y":1680,"lo":950,"hi":2520},
{"p":"d","s":"R","x":41.5,"y":1790,"lo":1150,"hi":2580},
{"p":"d","s":"R","x":42.5,"y":1860,"lo":1250,"hi":2600},
{"p":"d","s":"R","x":43.6,"y":1920,"lo":1320,"hi":2620},
{"p":"d","s":"R","x":44.5,"y":1950,"lo":1360,"hi":2630},
{"p":"d","s":"R","x":45.2,"y":1960,"lo":1380,"hi":2640},
{"p":"d","s":"R","x":46.3,"y":1950,"lo":1380,"hi":2620},
{"p":"d","s":"R","x":46.9,"y":1970,"lo":1400,"hi":2640},
{"p":"d","s":"R","x":47.5,"y":1960,"lo":1400,"hi":2630},
{"p":"d","s":"R","x":48.5,"y":2010,"lo":1430,"hi":2650},
{"p":"d","s":"R","x":49.3,"y":2000,"lo":1430,"hi":2640},
{"p":"d","s":"R","x":50,"y":2030,"lo":1450,"hi":2660}
]},
"spacing": 24.5,
"resolve": {"scale": {"color": "independent"}, "legend": {"color": "independent"}},
"vconcat": [
 {"hconcat": [
  {"width": 308, "height": 230, "title": {"text": "2D Locomotion"},
   "transform": [{"filter": "datum.p == 'a'"}],
   "encoding": {
     "x": {"field": "x", "type": "quantitative", "scale": {"domain": [0, 50], "nice": false}, "axis": {"title": "Simulation Step (Million)", "values": [0, 10, 20, 30, 40, 50]}},
     "color": {"field": "s", "type": "nominal", "scale": {"domain": ["T", "E", "R"], "range": ["#1f77b4", "#ff7f0e", "#2ca02c"]}, "legend": {"labelExpr": "datum.label == 'T' ? 'Transform2Act (Ours)' : datum.label == 'E' ? 'Expert Design' : 'RL for Design [Ha 2019]'"}}
   },
   "layer": [
     {"mark": {"type": "area", "opacity": 0.2}, "encoding": {"y": {"field": "lo", "type": "quantitative", "scale": {"domain": [0, 6290], "nice": false}, "axis": {"title": "Reward", "values": [0, 1000, 2000, 3000, 4000, 5000, 6000]}}, "y2": {"field": "hi"}}},
     {"mark": {"type": "line", "strokeWidth": 1.7}, "encoding": {"y": {"field": "y", "type": "quantitative"}}}
   ]},
  {"width": 308, "height": 230, "title": {"text": "3D Locomotion"},
   "transform": [{"filter": "datum.p == 'b'"}],
   "encoding": {
     "x": {"field": "x", "type": "quantitative", "scale": {"domain": [0, 50], "nice": false}, "axis": {"title": "Simulation Step (Million)", "values": [0, 10, 20, 30, 40, 50]}},
     "color": {"field": "s", "type": "nominal", "scale": {"domain": ["T", "E", "R"], "range": ["#1f77b4", "#ff7f0e", "#2ca02c"]}, "legend": {"labelExpr": "datum.label == 'T' ? 'Transform2Act (Ours)' : datum.label == 'E' ? 'Expert Design' : 'RL for Design [Ha 2019]'"}}
   },
   "layer": [
     {"mark": {"type": "area", "opacity": 0.2}, "encoding": {"y": {"field": "lo", "type": "quantitative", "scale": {"domain": [0, 7815], "nice": false}, "axis": {"title": "Reward", "values": [0, 1000, 2000, 3000, 4000, 5000, 6000, 7000]}}, "y2": {"field": "hi"}}},
     {"mark": {"type": "line", "strokeWidth": 1.7}, "encoding": {"y": {"field": "y", "type": "quantitative"}}}
   ]}
 ], "spacing": 68, "resolve": {"scale": {"color": "independent"}, "legend": {"color": "independent"}}},
 {"hconcat": [
  {"width": 308, "height": 230, "title": {"text": "Swimmer"},
   "transform": [{"filter": "datum.p == 'c'"}],
   "encoding": {
     "x": {"field": "x", "type": "quantitative", "scale": {"domain": [0, 50], "nice": false}, "axis": {"title": "Simulation Step (Million)", "values": [0, 10, 20, 30, 40, 50]}},
     "color": {"field": "s", "type": "nominal", "scale": {"domain": ["T", "E", "R"], "range": ["#1f77b4", "#ff7f0e", "#2ca02c"]}, "legend": {"labelExpr": "datum.label == 'T' ? 'Transform2Act (Ours)' : datum.label == 'E' ? 'Expert Design' : 'RL for Design [Ha 2019]'"}}
   },
   "layer": [
     {"mark": {"type": "area", "opacity": 0.2}, "encoding": {"y": {"field": "lo", "type": "quantitative", "scale": {"domain": [0, 981], "nice": false}, "axis": {"title": "Reward", "values": [0, 200, 400, 600, 800]}}, "y2": {"field": "hi"}}},
     {"mark": {"type": "line", "strokeWidth": 1.7}, "encoding": {"y": {"field": "y", "type": "quantitative"}}}
   ]},
  {"width": 308, "height": 230, "title": {"text": "Gap Crosser"},
   "transform": [{"filter": "datum.p == 'd'"}],
   "encoding": {
     "x": {"field": "x", "type": "quantitative", "scale": {"domain": [0, 50], "nice": false}, "axis": {"title": "Simulation Step (Million)", "values": [0, 10, 20, 30, 40, 50]}},
     "color": {"field": "s", "type": "nominal", "scale": {"domain": ["T", "E", "R"], "range": ["#1f77b4", "#ff7f0e", "#2ca02c"]}, "legend": {"labelExpr": "datum.label == 'T' ? 'Transform2Act (Ours)' : datum.label == 'E' ? 'Expert Design' : 'RL for Design [Ha 2019]'"}}
   },
   "layer": [
     {"mark": {"type": "area", "opacity": 0.2}, "encoding": {"y": {"field": "lo", "type": "quantitative", "scale": {"domain": [0, 5540], "nice": false}, "axis": {"title": "Reward", "values": [0, 1000, 2000, 3000, 4000, 5000]}}, "y2": {"field": "hi"}}},
     {"mark": {"type": "line", "strokeWidth": 1.7}, "encoding": {"y": {"field": "y", "type": "quantitative"}}}
   ]}
 ], "spacing": 68, "resolve": {"scale": {"color": "independent"}, "legend": {"color": "independent"}}}
]
}
